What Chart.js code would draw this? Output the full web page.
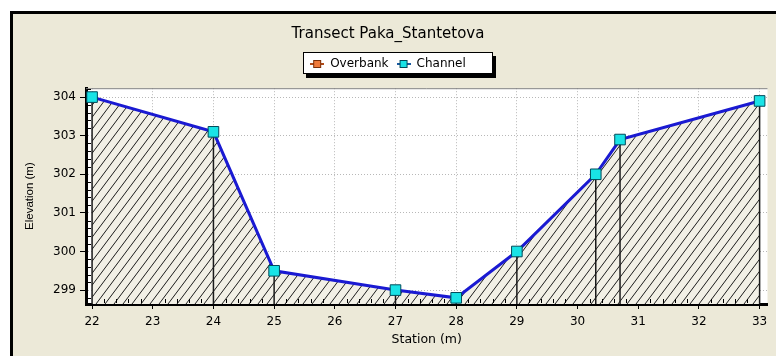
<!DOCTYPE html>
<html>
<head>
<meta charset="utf-8">
<script src="https://cdn.jsdelivr.net/npm/chart.js@4.4.1/dist/chart.umd.min.js"></script>
<style>
  html, body { margin: 0; padding: 0; background: #fff; }
  canvas { display: block; }
</style>
</head>
<body>
<canvas id="transect" width="776" height="356"></canvas>
<script>
// values
const stations   = [22, 24, 25, 27, 28, 29, 30.3, 30.7, 33];
const elevations = [304.0, 303.1, 299.5, 299.0, 298.8, 300.0, 302.0, 302.9, 303.9];
const overbank   = [];   // no overbank points in this transect
const xTicks = [22, 23, 24, 25, 26, 27, 28, 29, 30, 31, 32, 33];
const yTicks = [299, 300, 301, 302, 303, 304];
const seriesNames = ['Overbank', 'Channel'];
const chartTitle = 'Transect Paka_Stantetova';
const xTitle = 'Station (m)';
const yTitle = 'Elevation (m)';

const FONT = "'DejaVu Sans', sans-serif";
const canvas = document.getElementById('transect');
const ctx = canvas.getContext('2d');

// diagonal hatch used for the ground below the profile
function makeHatch() {
  const w = 9, h = 12;
  const c = document.createElement('canvas');
  c.width = w; c.height = h;
  const g = c.getContext('2d');
  g.fillStyle = '#f2f0e6';
  g.fillRect(0, 0, w, h);
  g.strokeStyle = '#1c1c1c';
  g.lineWidth = 1;
  g.beginPath();
  for (let k = -1; k <= 1; k++) {
    g.moveTo(k * w, h);
    g.lineTo(k * w + w, 0);
  }
  g.stroke();
  return ctx.createPattern(c, 'repeat');
}

// small "line + square" legend symbol
function makeIcon(fill, border, line) {
  const c = document.createElement('canvas');
  c.width = 14; c.height = 10;
  const g = c.getContext('2d');
  g.fillStyle = line;
  g.fillRect(0, 4, 14, 2);
  g.fillStyle = fill;
  g.fillRect(3, 1, 8, 8);
  g.strokeStyle = border;
  g.lineWidth = 1;
  g.strokeRect(3.5, 1.5, 7, 7);
  return c;
}
const legendIcons = [
  makeIcon('#f07a3a', '#7a2e08', '#b04a18'),
  makeIcon('#19e3e6', '#004a5a', '#1a5aa0')
];

// window frame, white plot area and the legend box with its shadow
const framePlugin = {
  id: 'frame',
  beforeDraw(chart) {
    const { ctx, width, height, chartArea: a } = chart;
    ctx.save();
    ctx.fillStyle = '#fff';
    ctx.fillRect(0, 0, width, height);
    ctx.fillStyle = '#ece9d8';
    ctx.fillRect(10, 11, width - 10, height - 11);
    ctx.fillStyle = '#000';
    ctx.fillRect(10, 11, 3, height - 11);
    ctx.fillRect(10, 11, width - 10, 3);
    ctx.fillStyle = '#fff';
    ctx.fillRect(a.left, a.top, a.right - a.left, a.bottom - a.top);

    const hb = chart.legend.legendHitBoxes;
    if (hb && hb.length) {
      const last = hb[hb.length - 1];
      const l = Math.round(hb[0].left) - 7;
      const r = Math.round(last.left + last.width) + 27;
      const t = Math.round(hb[0].top) - 6;
      const b = Math.round(hb[0].top + hb[0].height) + 4;
      ctx.fillStyle = '#000';
      ctx.fillRect(l + 3, t + 4, r - l, b - t);
      ctx.fillStyle = '#fff';
      ctx.fillRect(l, t, r - l, b - t);
      ctx.strokeStyle = '#000';
      ctx.lineWidth = 1;
      ctx.strokeRect(l + 0.5, t + 0.5, r - l - 1, b - t - 1);
    }
    ctx.restore();
  },
  // vertical lines from each surveyed point down to the axis
  beforeDatasetsDraw(chart) {
    const { ctx, chartArea: a } = chart;
    const meta = chart.getDatasetMeta(1);
    ctx.save();
    ctx.strokeStyle = '#1a1a1a';
    ctx.lineWidth = 1.5;
    ctx.beginPath();
    meta.data.forEach(pt => {
      ctx.moveTo(pt.x, pt.y);
      ctx.lineTo(pt.x, a.bottom);
    });
    ctx.stroke();
    ctx.restore();
  },
  // minor ticks and the grey top edge of the plot
  afterDraw(chart) {
    const { ctx, chartArea: a, scales } = chart;
    ctx.save();
    ctx.strokeStyle = '#808080';
    ctx.lineWidth = 1;
    ctx.beginPath();
    ctx.moveTo(a.left, a.top + 0.5);
    ctx.lineTo(a.right, a.top + 0.5);
    ctx.stroke();

    ctx.strokeStyle = '#000';
    ctx.beginPath();
    for (let v = Math.ceil(scales.x.min * 5) / 5; v <= scales.x.max; v += 0.2) {
      if (Math.abs(v - Math.round(v)) < 0.01) continue;
      const px = Math.round(scales.x.getPixelForValue(v)) + 0.5;
      ctx.moveTo(px, a.bottom - 1);
      ctx.lineTo(px, a.bottom - 5);
    }
    for (let v = Math.ceil(scales.y.min * 5) / 5; v <= scales.y.max; v += 0.2) {
      if (Math.abs(v - Math.round(v)) < 0.01) continue;
      const py = Math.round(scales.y.getPixelForValue(v)) + 0.5;
      ctx.moveTo(a.left + 1, py);
      ctx.lineTo(a.left + 5, py);
    }
    ctx.stroke();
    ctx.restore();
  }
};

new Chart(canvas, {
  type: 'line',
  data: {
    datasets: [
      {
        label: seriesNames[0],
        data: overbank,
        borderColor: '#f07a3a',
        backgroundColor: '#f07a3a'
      },
      {
        label: seriesNames[1],
        data: stations.map((s, i) => ({ x: s, y: elevations[i] })),
        borderColor: '#1a1ad2',
        borderWidth: 3,
        backgroundColor: makeHatch(),
        fill: 'start',
        tension: 0,
        pointStyle: 'rect',
        pointRadius: 7.5,
        pointBackgroundColor: '#19e3e6',
        pointBorderColor: '#004a5a',
        pointBorderWidth: 1
      }
    ]
  },
  options: {
    responsive: false,
    animation: false,
    devicePixelRatio: 1,
    layout: { padding: { left: 0, right: 0, top: 0, bottom: 0 } },
    plugins: {
      filler: { drawTime: 'beforeDatasetsDraw' },
      title: {
        display: true,
        text: chartTitle,
        color: '#000',
        font: { family: FONT, size: 15, weight: 'normal' },
        padding: { top: 25, bottom: 7 }
      },
      // empty subtitle placed under the legend, only used as a spacer
      subtitle: {
        display: true,
        text: '',
        weight: 500,
        font: { size: 1 },
        padding: { top: 7, bottom: 0 }
      },
      legend: {
        position: 'top',
        labels: {
          usePointStyle: true,
          pointStyleWidth: 14,
          boxHeight: 10,
          padding: 8,
          color: '#000',
          font: { family: FONT, size: 12 },
          generateLabels(chart) {
            return Chart.defaults.plugins.legend.labels.generateLabels(chart)
              .map((l, i) => Object.assign(l, { pointStyle: legendIcons[i] }));
          }
        }
      },
      tooltip: { enabled: false }
    },
    scales: {
      x: {
        type: 'linear',
        min: 21.9,
        max: 33.13,
        afterBuildTicks: s => { s.ticks = xTicks.map(v => ({ value: v })); },
        afterFit: s => { s.height = 52; s.paddingLeft = 0; s.paddingRight = 0; },
        ticks: { color: '#000', font: { family: FONT, size: 12 }, padding: 6, maxRotation: 0, autoSkip: false },
        grid: { color: '#b8b8b8', lineWidth: 1, tickLength: 5, tickColor: '#000', tickWidth: 1, tickBorderDash: [] },
        border: { display: true, color: '#000', width: 3, dash: [1, 2] },
        title: { display: true, text: xTitle, color: '#000', font: { family: FONT, size: 12.5 }, padding: { top: 0, bottom: 9 } }
      },
      y: {
        type: 'linear',
        min: 298.64,
        max: 304.23,
        afterBuildTicks: s => { s.ticks = yTicks.map(v => ({ value: v })); },
        afterFit: s => { s.width = 86; s.paddingTop = 0; s.paddingBottom = 0; },
        ticks: { color: '#000', font: { family: FONT, size: 12 }, padding: 4, autoSkip: false },
        grid: { color: '#b8b8b8', lineWidth: 1, tickLength: 6, tickColor: '#000', tickWidth: 1, tickBorderDash: [] },
        border: { display: true, color: '#000', width: 3, dash: [1, 2] },
        title: { display: true, text: yTitle, color: '#000', font: { family: "'Liberation Sans', Arial, sans-serif", size: 11.5 }, padding: { top: 23, bottom: 0 } }
      }
    }
  },
  plugins: [framePlugin]
});
</script>
</body>
</html>
